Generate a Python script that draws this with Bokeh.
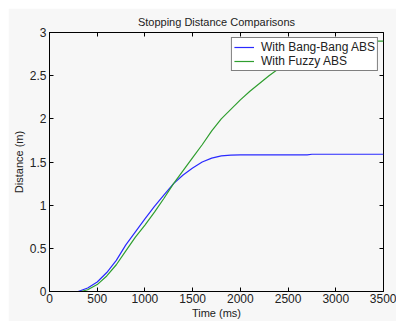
from bokeh.plotting import figure
from bokeh.models import Range1d, LinearAxis, FixedTicker, Legend, LegendItem
from bokeh.embed import file_html
from bokeh.resources import INLINE

# ---- data ----
t_bang = [0, 250, 300, 400, 500, 600, 700, 800, 900, 1000, 1100, 1200, 1300, 1400,
          1500, 1600, 1700, 1800, 1900, 2000, 2200, 2500, 2700, 2750, 3000, 3500]
d_bang = [0, 0, 0, 0.04, 0.11, 0.22, 0.36, 0.54, 0.69, 0.84, 0.985, 1.12, 1.25, 1.35,
          1.43, 1.50, 1.545, 1.57, 1.58, 1.582, 1.583, 1.583, 1.583, 1.59, 1.59, 1.59]

t_fuzzy = [0, 250, 330, 400, 500, 600, 700, 800, 900, 1000, 1100, 1200, 1300, 1400,
           1500, 1600, 1700, 1800, 1900, 2000, 2100, 2200, 2300, 2400, 2500, 2600,
           2700, 2800, 2900, 3000, 3100, 3500]
d_fuzzy = [0, 0, 0, 0.02, 0.08, 0.18, 0.31, 0.47, 0.63, 0.77, 0.92, 1.08, 1.25, 1.40,
           1.55, 1.70, 1.86, 2.0, 2.11, 2.22, 2.32, 2.41, 2.50, 2.58, 2.65, 2.72,
           2.78, 2.83, 2.87, 2.89, 2.90, 2.90]

x_ticks = [0, 500, 1000, 1500, 2000, 2500, 3000, 3500]
y_ticks = [0, 0.5, 1, 1.5, 2, 2.5, 3]

title_text = "Stopping Distance Comparisons"
x_label = "Time (ms)"
y_label = "Distance (m)"
series_names = ["With Bang-Bang ABS", "With Fuzzy ABS"]

FONT = "Liberation Sans"
TXT = "#222222"
BG = "#f7f7f7"

p = figure(width=388, height=313, output_backend="svg", toolbar_location=None,
           x_range=Range1d(0, 3500), y_range=Range1d(0, 3),
           min_border_left=41, min_border_right=13, min_border_top=24,
           min_border_bottom=29, background_fill_color=BG, border_fill_color=BG,
           title=title_text, margin=(8, 0, 0, 8))

p.title.align = "center"
p.title.text_font = FONT
p.title.text_font_size = "11px"
p.title.text_font_style = "normal"
p.title.text_color = TXT
p.title.standoff = 9
p.title.offset = 0

p.grid.visible = False
p.outline_line_color = "#000000"
p.outline_line_width = 1

for ax in p.xaxis + p.yaxis:
    ax.major_tick_in = 4
    ax.major_tick_out = 0
    ax.minor_tick_line_color = None
    ax.axis_line_color = "#000000"
    ax.major_tick_line_color = "#000000"
    ax.major_label_text_font = FONT
    ax.major_label_text_font_size = "12px"
    ax.major_label_text_color = TXT
    ax.axis_label_text_font = FONT
    ax.axis_label_text_font_size = "11px"
    ax.axis_label_text_font_style = "normal"
    ax.axis_label_text_color = TXT

p.xaxis.ticker = FixedTicker(ticks=x_ticks)
p.yaxis.ticker = FixedTicker(ticks=y_ticks)
p.xaxis.axis_label = x_label
p.yaxis.axis_label = y_label
p.xaxis.major_label_standoff = 2
p.yaxis.major_label_standoff = 3
p.xaxis.axis_label_standoff = 1
p.yaxis.axis_label_standoff = 2

# box ticks on top and right (no labels)
top = LinearAxis(ticker=FixedTicker(ticks=x_ticks), major_tick_in=4, major_tick_out=0,
                 minor_tick_line_color=None, major_label_text_color=None,
                 major_label_text_font_size="1px", major_label_standoff=0,
                 axis_line_color=None)
right = LinearAxis(ticker=FixedTicker(ticks=y_ticks), major_tick_in=4, major_tick_out=0,
                   minor_tick_line_color=None, major_label_text_color=None,
                   major_label_text_font_size="1px", major_label_standoff=0,
                   axis_line_color=None)
p.add_layout(top, "above")
p.add_layout(right, "right")

r1 = p.line(t_bang, d_bang, line_color="#2a2aff", line_width=1.2)
r2 = p.line(t_fuzzy, d_fuzzy, line_color="#2f9e2f", line_width=1.2)

legend = Legend(items=[LegendItem(label=series_names[0], renderers=[r1]),
                       LegendItem(label=series_names[1], renderers=[r2])],
                location="top_right", margin=5, padding=2, spacing=0,
                glyph_width=20, glyph_height=14, label_height=14,
                label_standoff=7, label_text_font=FONT,
                label_text_font_size="12px", label_text_color=TXT,
                border_line_color="#000000", border_line_width=1,
                background_fill_color="#ffffff", background_fill_alpha=1)
p.add_layout(legend, "center")

open("out.html", "w").write(file_html(p, INLINE))
